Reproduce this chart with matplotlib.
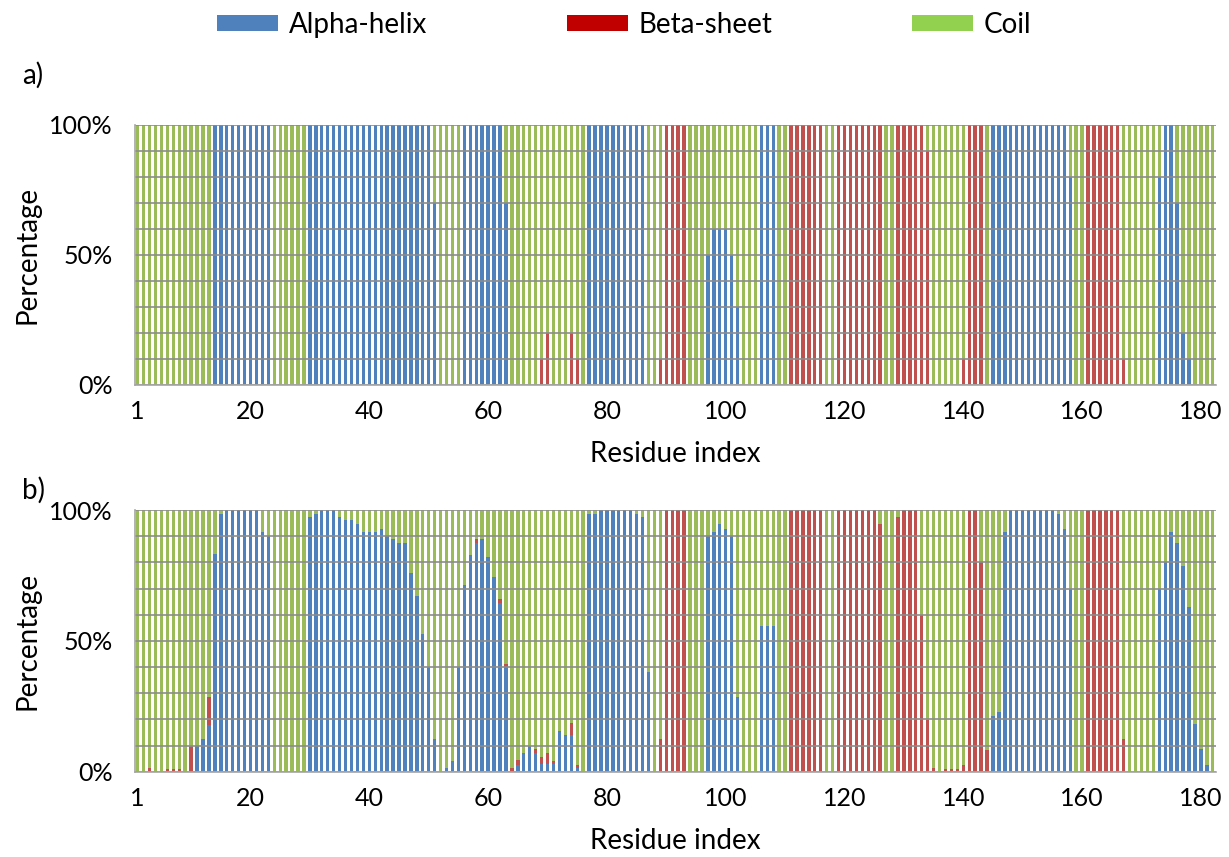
import numpy as np
import matplotlib
matplotlib.use("Agg")
import matplotlib.pyplot as plt
from matplotlib.patches import Patch
from matplotlib.ticker import FixedLocator

plt.rcParams['font.family'] = ['Lato', 'DejaVu Sans']

# Residue index 1..182
residues = np.arange(1, 183)
x_tick_labels = [1, 20, 40, 60, 80, 100, 120, 140, 160, 180]

# Panel a) percentages per residue (alpha-helix, beta-sheet); coil = rest
helix_a = [
    0, 0, 0, 0, 0, 0, 0, 0, 0, 0,
    0, 0, 0, 100, 100, 100, 100, 100, 100, 100,
    100, 100, 100, 0, 0, 0, 0, 0, 0, 100,
    100, 100, 100, 100, 100, 100, 100, 100, 100, 100,
    100, 100, 100, 100, 100, 100, 100, 100, 100, 100,
    70, 0, 0, 0, 0, 100, 100, 100, 100, 100,
    100, 100, 70, 0, 0, 0, 0, 0, 0, 0,
    0, 0, 0, 0, 0, 0, 100, 100, 100, 100,
    100, 100, 100, 100, 100, 100, 0, 0, 0, 0,
    0, 0, 0, 0, 0, 0, 50, 60, 60, 60,
    50, 30, 0, 0, 0, 100, 100, 100, 0, 0,
    0, 0, 0, 0, 0, 0, 0, 0, 0, 0,
    0, 0, 0, 0, 0, 0, 0, 0, 0, 0,
    0, 0, 0, 0, 0, 0, 0, 0, 0, 0,
    0, 0, 0, 0, 100, 100, 100, 100, 100, 100,
    100, 100, 100, 100, 100, 100, 100, 80, 0, 0,
    0, 0, 0, 0, 0, 0, 0, 0, 0, 0,
    0, 0, 80, 100, 100, 70, 20, 10, 0, 0,
    0, 0,
]
sheet_a = [
    0, 0, 0, 0, 0, 0, 0, 0, 0, 0,
    0, 0, 0, 0, 0, 0, 0, 0, 0, 0,
    0, 0, 0, 0, 0, 0, 0, 0, 0, 0,
    0, 0, 0, 0, 0, 0, 0, 0, 0, 0,
    0, 0, 0, 0, 0, 0, 0, 0, 0, 0,
    0, 0, 0, 0, 0, 0, 0, 0, 0, 0,
    0, 0, 0, 0, 0, 0, 0, 0, 10, 20,
    0, 0, 0, 20, 10, 0, 0, 0, 0, 0,
    0, 0, 0, 0, 0, 0, 0, 0, 10, 100,
    100, 100, 100, 0, 0, 0, 0, 0, 0, 0,
    0, 0, 0, 0, 0, 0, 0, 0, 0, 0,
    100, 100, 100, 100, 100, 100, 0, 0, 100, 100,
    100, 100, 100, 100, 100, 100, 0, 0, 100, 100,
    100, 100, 100, 90, 0, 0, 0, 0, 0, 10,
    100, 100, 100, 0, 0, 0, 0, 0, 0, 0,
    0, 0, 0, 0, 0, 0, 0, 0, 0, 0,
    100, 100, 100, 100, 100, 100, 10, 0, 0, 0,
    0, 0, 0, 0, 0, 0, 0, 0, 0, 0,
    0, 0,
]

# Panel b)
helix_b = [
    0, 0, 0, 0, 0, 0, 0, 0, 0, 0,
    10, 12.6, 18, 83, 98.5, 100, 100, 100, 100, 100,
    100, 91.5, 90, 0, 0, 0, 0, 0, 0, 97.2,
    98.5, 100, 100, 100, 97.2, 96.2, 96.2, 94.6, 91.5, 91.5,
    91.5, 92.7, 90, 88.8, 87.3, 87.3, 76, 67, 52.6, 40,
    12.6, 0, 1.3, 4.2, 40, 71.3, 82.8, 87.5, 88.8, 81.9,
    74.5, 64.6, 40, 0, 2.5, 7, 9.8, 7, 2.8, 2.8,
    2.8, 15.7, 14, 14, 1.3, 0, 98.5, 98.5, 100, 100,
    100, 100, 100, 100, 98.5, 97.2, 38.2, 0, 0, 0,
    0, 0, 0, 0, 0, 0, 90, 91.5, 94.6, 92.7,
    90, 28.4, 0, 0, 0, 55.8, 55.8, 55.8, 0, 0,
    0, 0, 0, 0, 0, 0, 0, 0, 0, 0,
    0, 0, 0, 0, 0, 0, 0, 0, 0, 0,
    0, 0, 0, 0, 0, 0, 0, 0, 0, 0,
    0, 0, 0, 0, 21.3, 22.9, 91.5, 100, 100, 100,
    100, 100, 100, 100, 100, 98.5, 92.7, 70, 0, 0,
    0, 0, 0, 0, 0, 0, 0, 0, 0, 0,
    0, 0, 70, 80, 91.5, 87.5, 78.6, 63, 18.2, 8.5,
    2.5, 0,
]
sheet_b = [
    0, 0, 1.3, 0, 0, 1, 1, 1, 0, 10,
    0, 0, 10.5, 0, 0, 0, 0, 0, 0, 0,
    0, 0, 0, 0, 0, 0, 0, 0, 0, 0,
    0, 0, 0, 0, 0, 0, 0, 0, 0, 0,
    0, 0, 0, 0, 0, 0, 0, 0, 0, 0,
    0, 0, 0, 0, 0, 0, 0, 1.3, 0, 0,
    0, 1.3, 1.3, 1.3, 1.9, 0, 0, 1.5, 2.9, 4.2,
    1.4, 0, 0, 4.7, 1.3, 0, 0, 0, 0, 0,
    0, 0, 0, 0, 0, 0, 0, 0, 12.6, 100,
    100, 100, 100, 0, 0, 0, 0, 0, 0, 0,
    0, 0, 0, 0, 0, 0, 0, 0, 0, 0,
    100, 100, 100, 100, 100, 100, 0, 0, 100, 100,
    100, 100, 100, 100, 100, 94.6, 0, 0, 97.2, 100,
    100, 100, 60, 19.7, 1.3, 0, 1, 1, 1, 2.5,
    100, 100, 80.3, 8.3, 0, 0, 0, 0, 0, 0,
    0, 0, 0, 0, 0, 0, 0, 0, 0, 0,
    100, 100, 100, 100, 100, 100, 12.6, 0, 0, 0,
    0, 0, 0, 0, 0, 0, 0, 0, 0, 0,
    0, 0,
]

series_names = ['Alpha-helix', 'Beta-sheet', 'Coil']
bar_colors = ['#4F81BD', '#C0504D', '#9BBB59']
legend_colors = ['#4F81BD', '#C00000', '#92D050']

fig = plt.figure(figsize=(12.29, 8.57), dpi=100)
ax_a = fig.add_axes([0.1096, 0.5508, 0.8796, 0.3034])
ax_b = fig.add_axes([0.1096, 0.0995, 0.8796, 0.3054])


def draw_panel(ax, helix, sheet):
    h = np.array(helix) / 100.0
    s = np.array(sheet) / 100.0
    c = 1.0 - h - s
    w = 0.57
    ax.bar(residues, h, width=w, color=bar_colors[0], linewidth=0, zorder=1)
    ax.bar(residues, s, width=w, bottom=h, color=bar_colors[1], linewidth=0, zorder=1)
    ax.bar(residues, c, width=w, bottom=h + s, color=bar_colors[2], linewidth=0, zorder=1)

    ax.set_xlim(0.5, 182.5)
    ax.set_ylim(0, 1)
    ax.set_xticks(x_tick_labels)
    ax.set_xticklabels([str(v) for v in x_tick_labels])
    ax.set_yticks([0, 0.5, 1.0])
    ax.set_yticklabels(['0%', '50%', '100%'])
    ax.yaxis.set_minor_locator(FixedLocator(np.arange(0.1, 1.0, 0.1)))
    ax.grid(axis='y', which='both', color='#8C8C8C', linewidth=1.2, zorder=3)
    ax.set_axisbelow(False)
    ax.tick_params(axis='both', which='both', length=0, labelsize=18, colors='black')
    ax.tick_params(axis='y', pad=16)
    ax.tick_params(axis='x', pad=11)
    for side in ['top', 'right']:
        ax.spines[side].set_visible(False)
    for side in ['left', 'bottom']:
        ax.spines[side].set_color('#A6A6A6')
        ax.spines[side].set_linewidth(1.2)
        ax.spines[side].set_zorder(4)
    ax.set_xlabel('Residue index', fontsize=20, labelpad=13)
    ax.set_ylabel('Percentage', fontsize=20, labelpad=6)


draw_panel(ax_a, helix_a, sheet_a)
draw_panel(ax_b, helix_b, sheet_b)

fig.text(0.018, 0.912, 'a)', fontsize=20, va='center')
fig.text(0.018, 0.428, 'b)', fontsize=20, va='center')

handles = [Patch(facecolor=col, edgecolor='none') for col in legend_colors]
fig.legend(handles, series_names, loc='center', bbox_to_anchor=(0.508, 0.971),
           ncol=3, frameon=False, fontsize=20, handlelength=2.2,
           handleheight=0.5, handletextpad=0.4, columnspacing=5.0)

fig.savefig('out.png', dpi=100)
